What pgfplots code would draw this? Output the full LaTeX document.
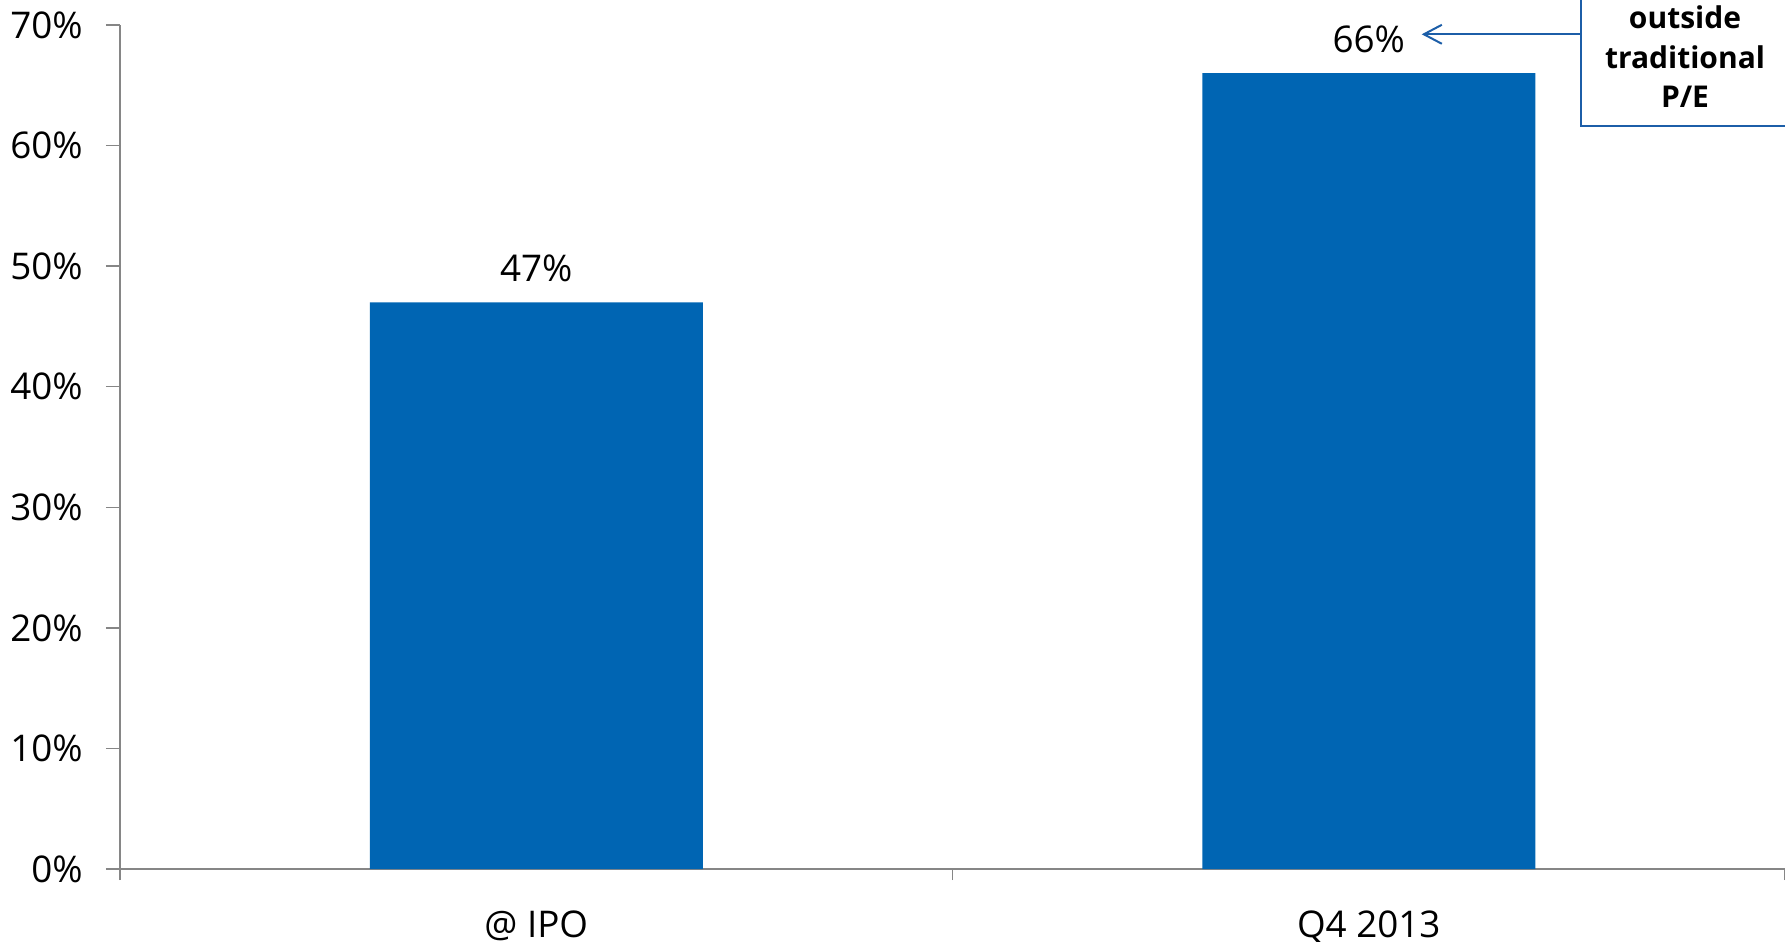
\documentclass[border=0pt]{standalone}
\usepackage{fontspec}
\setmainfont{Open Sans}
\usepackage{pgfplots}
\pgfplotsset{compat=1.18}
\usetikzlibrary{arrows.meta}
\definecolor{barblue}{RGB}{0,101,179}
\definecolor{axisgray}{RGB}{134,134,134}
\definecolor{boxblue}{RGB}{28,94,168}
\begin{document}
\begin{tikzpicture}
\begin{axis}[
  at={(0,0)}, anchor=south west,
  scale only axis, width=416.25bp, height=211bp,
  xmin=-0.5, xmax=1.5, ymin=0, ymax=70,
  axis lines=left, axis line style={-},
  x axis line style={draw=axisgray, line width=0.6bp},
  y axis line style={draw=axisgray, line width=0.35bp},
  clip=false,
  ybar, bar width=0.4,
  xtick={0,1}, xticklabels={@ IPO, Q4 2013},
  minor xtick={-0.5,0.5,1.5},
  major x tick style={draw=none},
  ytick={0,10,...,70},
  yticklabel={\pgfmathprintnumber{\tick}\%},
  /pgf/number format/assume math mode=true,
  tick align=outside,
  major tick length=3.5bp, minor tick length=2.8bp,
  tick style={draw=axisgray, line width=0.35bp},
  tick label style={font=\fontsize{9.2bp}{11bp}\selectfont, text=black},
  yticklabel style={xshift=-2.3bp},
  xticklabel style={yshift=-3.4bp},
  nodes near coords={\pgfmathprintnumber{\pgfplotspointmeta}\%},
  every node near coord/.append style={font=\fontsize{9.2bp}{11bp}\selectfont, text=black, anchor=base, yshift=5.25bp},
]
\addplot[fill=barblue, draw=none] coordinates {(0,47) (1,66)};
\draw[boxblue, line width=0.5bp, fill=white] (axis cs:1.2550,61.65) rectangle (axis cs:1.8,76);
\draw[boxblue, line width=0.5bp, -{Straight Barb[length=4.5bp,width=4.75bp]}] (axis cs:1.2550,69.23) -- (axis cs:1.0636,69.23);
\node[anchor=base, font=\fontsize{7.5bp}{9.9bp}\selectfont\bfseries, inner sep=0] at (axis cs:1.3799,69.74) {outside};
\node[anchor=base, font=\fontsize{7.5bp}{9.9bp}\selectfont\bfseries, inner sep=0] at (axis cs:1.3799,66.42) {traditional};
\node[anchor=base, font=\fontsize{7.5bp}{9.9bp}\selectfont\bfseries, inner sep=0] at (axis cs:1.3799,63.18) {P/E};
\end{axis}
\pgfresetboundingbox
\useasboundingbox (-30bp,-18.25bp) rectangle (416.25bp,217.25bp);
\end{tikzpicture}
\end{document}
